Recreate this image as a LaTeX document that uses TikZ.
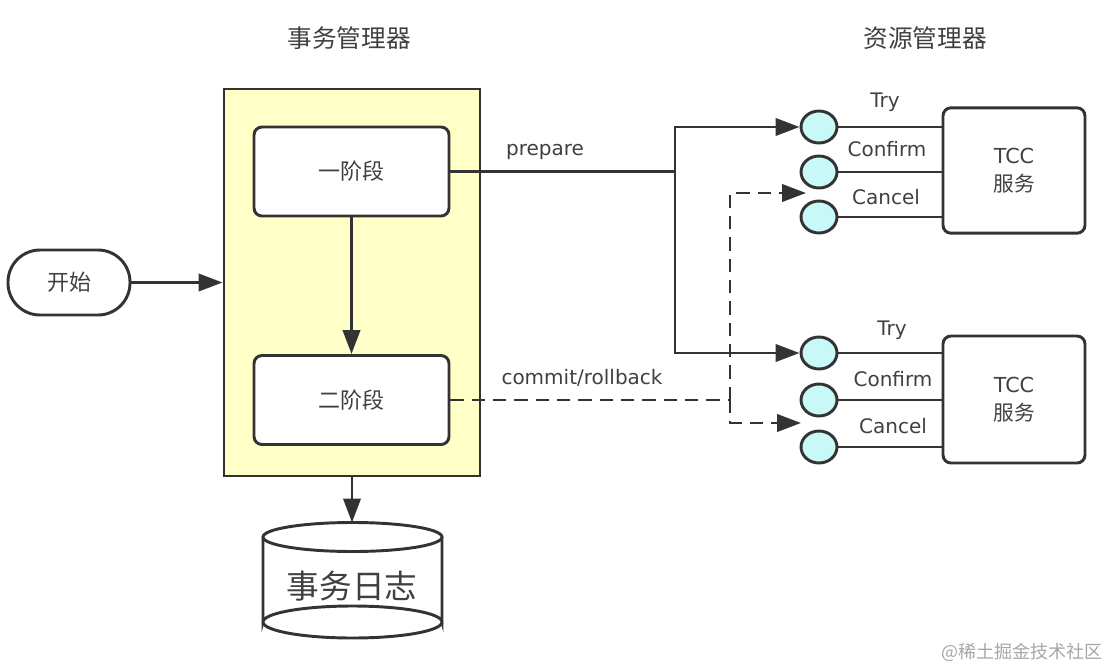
\documentclass[tikz,border=0pt]{standalone}
\usepackage{fontspec}
\setmainfont{DejaVu Sans}
\newfontfamily\cjk{Noto Sans CJK SC}
\usetikzlibrary{arrows.meta,shapes.geometric}
\definecolor{ln}{HTML}{333333}
\definecolor{tx}{HTML}{404040}
\definecolor{yel}{HTML}{FFFFC8}
\definecolor{cyanfill}{HTML}{C8F8F8}
\begin{document}
\begin{tikzpicture}[x=0.75pt,y=-0.75pt,
  line width=2.2pt,
  every node/.style={text=tx},
  arr/.style={draw=ln,-{Triangle[length=18pt,width=13pt]}},
  darr/.style={draw=ln,dash pattern=on 10pt off 6pt,-{Triangle[length=18pt,width=13pt]}},
  dln/.style={draw=ln,dash pattern=on 10pt off 6pt},
  phase/.style={draw=ln,fill=white,rounded corners=6pt,minimum width=146.25pt,minimum height=66.75pt,font=\cjk\fontsize{16.5}{18}\selectfont},
  port/.style={ellipse,draw=ln,fill=cyanfill,minimum width=27pt,minimum height=24pt,inner sep=0pt},
  tcc/.style={draw=ln,fill=white,rounded corners=6pt,minimum width=106.5pt,minimum height=94pt,align=center,font=\fontsize{15.5}{21}\selectfont},
  lbl/.style={font=\fontsize{15}{17}\selectfont,inner sep=1pt},
  title/.style={font=\cjk\fontsize{18.5}{20}\selectfont}
]
\useasboundingbox (0,0) rectangle (1110,668);

% titles
\node[title] (t1) at (349,38) {事务管理器};
\node[title] (t2) at (925,38) {资源管理器};

% transaction manager
\node[draw=ln,fill=yel,minimum width=192pt,minimum height=290.25pt,inner sep=0pt] (tm) at (352,282.5) {};
\node[phase] (one) at (351.5,171.5) {一阶段};
\node[phase] (two) at (351.5,400) {二阶段};
\draw[arr] (one.south) -- (two.north);

% start
\node[draw=ln,fill=white,rounded corners=24pt,minimum width=91.5pt,minimum height=48.75pt,font=\cjk\fontsize{16.5}{18}\selectfont] (start) at (69,282.5) {开始};
\draw[arr] (start.east) -- (start.east -| tm.west);

% log cylinder
\node[minimum width=134.25pt,minimum height=86pt,inner sep=0pt] (log) at (352,580) {};
\draw[ln,fill=white] (263,537) -- (263,622) arc[start angle=180,end angle=360,x radius=89.5,y radius=16] -- (442,537);
\draw[ln] (263,622) arc[start angle=180,end angle=0,x radius=89.5,y radius=16];
\draw[ln,fill=white] (352.5,537) ellipse[x radius=89.5,y radius=14.5];
\node[font=\cjk\fontsize{24.5}{26}\selectfont] (logtext) at (352,586) {事务日志};
\draw[arr] (tm.south) -- (352,522.5) coordinate (logtop);

% ports
\foreach \n/\y in {c1/127,c2/172,c3/217,c4/353,c5/400,c6/447}{
  \node[port] (\n) at (819,\y) {};
}
\node[tcc] (r1) at (1014,170.5) {TCC\\{\cjk 服务}};
\node[tcc,minimum height=95.25pt] (r2) at (1014,399.5) {TCC\\{\cjk 服务}};
\foreach \n/\r in {c1/r1,c2/r1,c3/r1,c4/r2,c5/r2,c6/r2}{
  \draw[ln] (\n.east) -- (\n.east -| \r.west);
}
\node[lbl] (try1) at (885,102) {Try};
\node[lbl] (con1) at (887,149) {Confirm};
\node[lbl] (can1) at (886,197) {Cancel};
\node[lbl] (try2) at (892,330) {Try};
\node[lbl] (con2) at (893,379) {Confirm};
\node[lbl] (can2) at (893,426) {Cancel};

% prepare
\coordinate (j1) at (675,171.5);
\draw[ln] (one.east) -- (j1);
\draw[arr] (j1) |- (c1.west);
\draw[arr] (j1) |- (c4.west);
\node[lbl] (prep) at (545,152) {prepare};

% commit/rollback
\coordinate (j2) at (730,400);
\coordinate (d1) at (806,193);
\coordinate (d2) at (801,423);
\draw[dln] (two.east) -- (j2);
\draw[darr] (j2) |- (d1);
\draw[darr] (j2) |- (d2);
\node[lbl] (cr) at (582,378) {commit/rollback};

% watermark
\node[font=\cjk\fontsize{13.5}{15}\selectfont,text=black!35] (wm) at (1022,652) {@稀土掘金技术社区};
\end{tikzpicture}
\end{document}
